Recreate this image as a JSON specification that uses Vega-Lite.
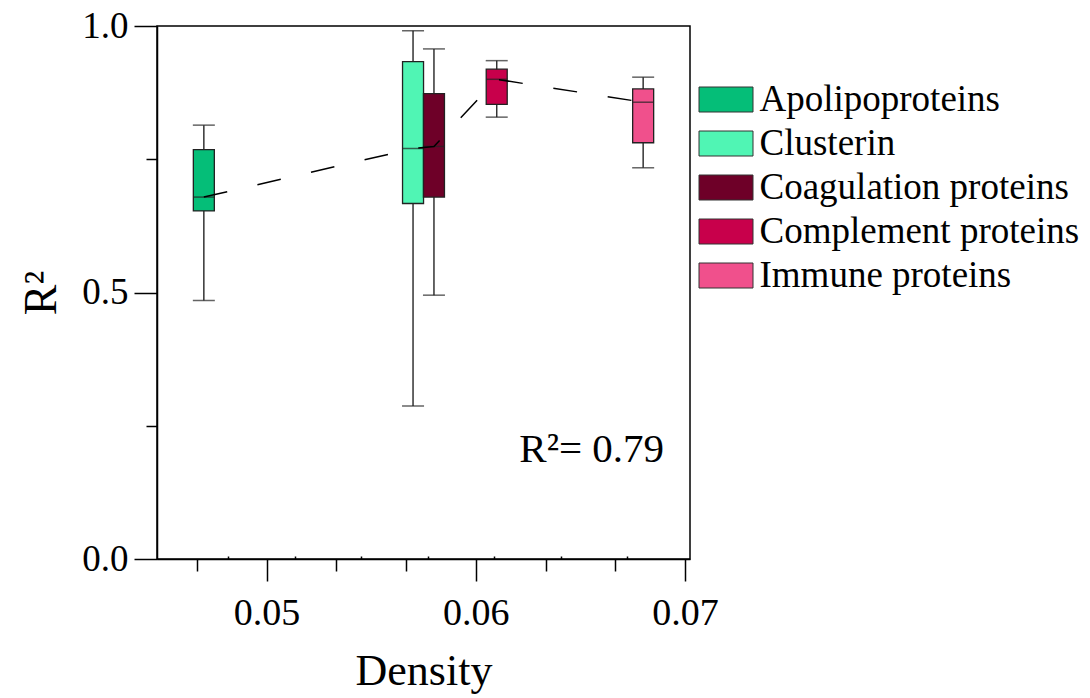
{
  "$schema": "https://vega.github.io/schema/vega-lite/v6.json",
  "width": 533,
  "height": 533,
  "autosize": "none",
  "padding": {"left": 157, "top": 26, "right": 400, "bottom": 139},
  "background": "white",
  "config": {
    "view": {"stroke": "black", "strokeWidth": 1.5},
    "font": "Liberation Serif",
    "axis": {
      "grid": false,
      "domainColor": "black",
      "domainWidth": 1.5,
      "tickColor": "black",
      "tickWidth": 1.5,
      "labelColor": "black",
      "titleColor": "black",
      "labelFont": "Liberation Serif",
      "titleFont": "Liberation Serif",
      "titleFontWeight": "normal"
    },
    "legend": {
      "labelFont": "Liberation Serif",
      "labelFontSize": 37,
      "labelColor": "black"
    }
  },
  "datasets": {
    "boxes": [
      {"group": "Apolipoproteins", "density": 0.047, "lower": 0.485, "q1": 0.653, "median": 0.679, "q3": 0.768, "upper": 0.814},
      {"group": "Clusterin", "density": 0.057, "lower": 0.287, "q1": 0.667, "median": 0.770, "q3": 0.933, "upper": 0.991},
      {"group": "Coagulation proteins", "density": 0.058, "lower": 0.495, "q1": 0.679, "median": 0.774, "q3": 0.873, "upper": 0.957},
      {"group": "Complement proteins", "density": 0.061, "lower": 0.829, "q1": 0.853, "median": 0.900, "q3": 0.919, "upper": 0.935},
      {"group": "Immune proteins", "density": 0.068, "lower": 0.734, "q1": 0.781, "median": 0.857, "q3": 0.882, "upper": 0.904}
    ],
    "note": [
      {"density": 0.0690, "r2": 0.182, "label": "R²= 0.79"}
    ]
  },
  "resolve": {"scale": {"x": "shared", "y": "shared"}, "axis": {"x": "independent", "y": "independent"}},
  "layer": [
    {
      "data": {"name": "boxes"},
      "mark": {"type": "rule", "color": "#333333", "strokeWidth": 1.5},
      "encoding": {
        "x": {
          "field": "density", "type": "quantitative",
          "scale": {"domain": [0.045, 0.07], "nice": false, "zero": false},
          "axis": {
            "orient": "bottom",
            "values": [0.05, 0.06, 0.07], "format": ".2f",
            "tickSize": 22, "labelFontSize": 38, "labelPadding": 13,
            "title": "Density", "titleFontSize": 44, "titlePadding": 17
          }
        },
        "y": {
          "field": "lower", "type": "quantitative",
          "scale": {"domain": [0, 1], "nice": false},
          "axis": {
            "orient": "left",
            "values": [0, 0.5, 1], "format": ".1f",
            "tickSize": 23, "labelFontSize": 37, "labelPadding": 6,
            "title": "R²", "titleFontSize": 46, "titlePadding": 16
          }
        },
        "y2": {"field": "upper"}
      }
    },
    {
      "data": {"name": "boxes"},
      "mark": {"type": "tick", "orient": "horizontal", "size": 22, "thickness": 1.5, "color": "#222222"},
      "encoding": {
        "x": {
          "field": "density", "type": "quantitative",
          "axis": {"orient": "bottom", "values": [0.046667, 0.053333, 0.056667, 0.063333, 0.066667], "tickSize": 12, "labels": false, "domain": false, "title": null}
        },
        "y": {
          "field": "lower", "type": "quantitative",
          "axis": {"orient": "left", "values": [0.25, 0.75], "tickSize": 11, "labels": false, "domain": false, "title": null}
        }
      }
    },
    {
      "data": {"name": "boxes"},
      "mark": {"type": "tick", "orient": "horizontal", "size": 22, "thickness": 1.5, "color": "#222222"},
      "encoding": {
        "x": {
          "field": "density", "type": "quantitative",
          "axis": {"orient": "bottom", "values": [0.048175, 0.05135, 0.054525, 0.0577, 0.060875, 0.06405, 0.067225], "tickSize": -3, "labels": false, "domain": false, "title": null}
        },
        "y": {"field": "upper", "type": "quantitative", "axis": null}
      }
    },
    {
      "data": {"name": "boxes"},
      "mark": {"type": "bar", "orient": "vertical", "size": 21, "stroke": "#222222", "strokeWidth": 1.3},
      "encoding": {
        "x": {"field": "density", "type": "quantitative", "axis": null},
        "y": {"field": "q1", "type": "quantitative", "axis": null},
        "y2": {"field": "q3"},
        "color": {
          "field": "group", "type": "nominal",
          "scale": {
            "domain": ["Apolipoproteins", "Clusterin", "Coagulation proteins", "Complement proteins", "Immune proteins"],
            "range": ["#05BE78", "#50F5B4", "#6E0028", "#C8004B", "#F0508C"]
          },
          "legend": {
            "title": null,
            "orient": "none",
            "legendX": 550.5,
            "legendY": 55,
            "padding": 0,
            "symbolType": "M-2.16,-1H2.16V1H-2.16Z",
            "symbolSize": 625,
            "symbolStrokeColor": "#333333",
            "symbolStrokeWidth": 1,
            "symbolOpacity": 1,
            "labelOffset": 15,
            "rowPadding": 6,
            "labelLimit": 400
          }
        }
      }
    },
    {
      "data": {"name": "boxes"},
      "mark": {"type": "tick", "orient": "horizontal", "size": 21, "thickness": 1.5, "color": "#222222"},
      "encoding": {
        "x": {"field": "density", "type": "quantitative", "axis": null},
        "y": {"field": "median", "type": "quantitative", "axis": null}
      }
    },
    {
      "data": {"name": "boxes"},
      "mark": {"type": "line", "color": "black", "strokeWidth": 1.5, "strokeDash": [24, 31]},
      "encoding": {
        "x": {"field": "density", "type": "quantitative", "axis": null},
        "y": {"field": "median", "type": "quantitative", "axis": null},
        "order": {"field": "density", "type": "quantitative"}
      }
    },
    {
      "data": {"name": "note"},
      "mark": {"type": "text", "align": "right", "baseline": "alphabetic", "fontSize": 41, "font": "Liberation Serif", "color": "black"},
      "encoding": {
        "x": {"field": "density", "type": "quantitative", "axis": null},
        "y": {"field": "r2", "type": "quantitative", "axis": null},
        "text": {"field": "label"}
      }
    }
  ]
}
